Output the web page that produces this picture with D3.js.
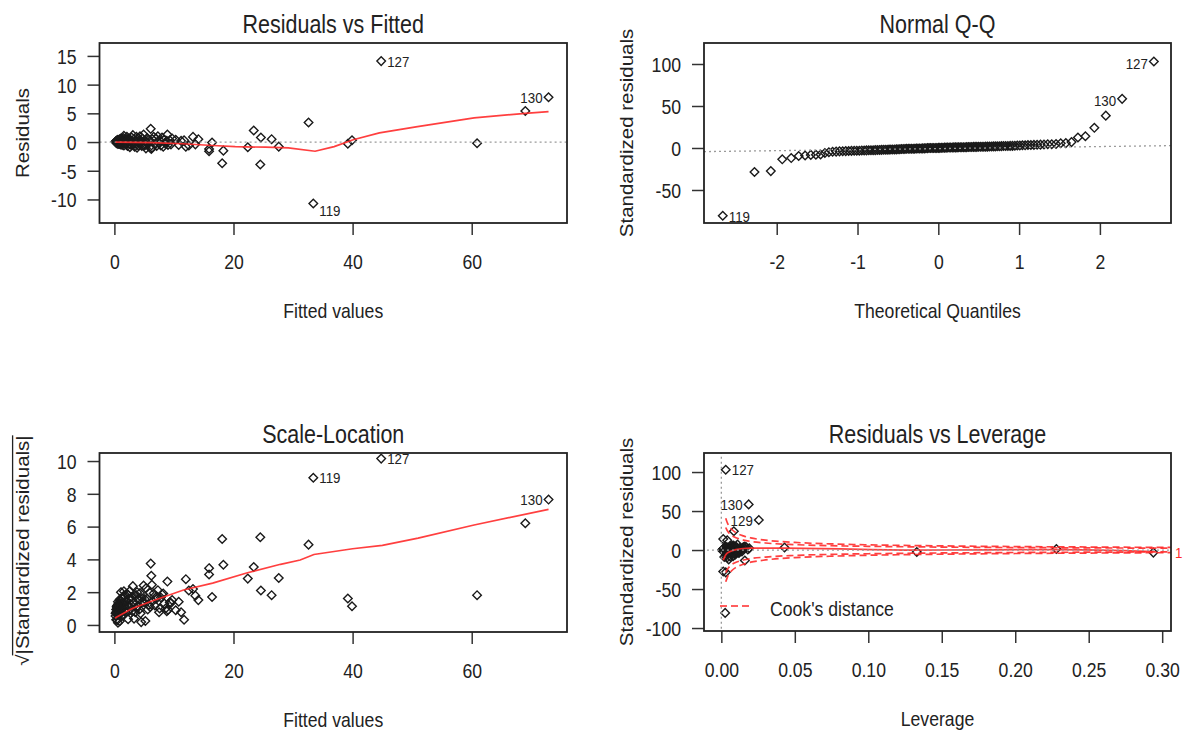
<!DOCTYPE html>
<html><head><meta charset="utf-8">
<script src="https://cdn.jsdelivr.net/npm/d3@7"></script>
<style>
html,body{margin:0;padding:0;background:#fff;}
svg{display:block;font-family:"Liberation Sans",Arial,Helvetica,sans-serif;}
</style></head><body>
<svg id="chart" width="1187" height="733"></svg>
<script>
// ---------- data (one entry per observation, obs number = index+1) ----------
const fittedValues = [
 0.2,0.3,0.3,0.4,0.4,0.5,0.5,0.5,0.6,0.6, 0.6,0.7,0.7,0.7,0.8,0.8,0.8,0.9,0.9,0.9,
 1.0,1.0,0.2,0.3,0.4,0.6,1.1,1.2,1.2,1.3, 1.4,1.5,1.5,1.6,1.7,1.8,1.9,2.0,2.1,2.2,
 2.3,2.4,2.5,2.6,2.7,2.8,2.9,3.0,1.3,1.9, 2.4,1.6,3.1,3.2,3.3,3.4,3.5,3.6,3.7,3.8,
 3.9,4.0,4.2,4.3,4.4,4.6,4.7,4.9,5.0,5.2, 5.3,5.5,5.6,5.8,5.9,6.0,3.3,4.5,6.3,6.4,
 6.6,6.8,7.0,7.1,7.3,7.5,7.6,7.8,8.0,8.2, 8.4,8.6,8.8,9.0,9.3,9.5,9.7,8.9,10.3,11.7,
 12.5,13.2,13.6,14.1,10.8,11.2,18.3,15.9,15.9,27.6, 22.4,12.0,6.2,23.4,6.1,24.6,26.4,16.4,33.4,24.5,
 18.1,32.6,60.9,39.2,39.9,0.9,44.8,2.2,69.0,72.9, 5.1];
const residualValues = [
 0.05,-0.1,0.15,-0.2,0.1,0.2,-0.05,0.3,-0.15,0.05, 0.4,-0.25,0.1,0.2,-0.1,0.3,-0.3,0.05,0.5,-0.2,
 0.15,-0.4,0.1,-0.05,0.25,-0.35,0.6,-0.3,0.2,-0.5, 0.4,-0.1,0.7,-0.6,0.3,-0.2,0.5,-0.4,0.9,-0.7,
 0.1,0.6,-0.3,-0.9,0.4,-0.5,0.8,-0.2,0.1,-0.15, 0.2,1.1,1.2,-0.4,0.5,-0.8,0.2,-0.3,0.9,-1.0,
 0.4,-0.6,0.3,1.0,-0.2,-0.7,0.6,1.3,-0.5,0.1, -1.1,0.7,-0.3,0.4,-0.9,0.2,-0.1,0.05,-1.0,0.5,
 0.9,-0.4,0.6,-0.7,1.0,-0.2,0.3,-0.6,0.8,-0.8, 0.4,-0.3,0.2,-0.5,0.3,-0.4,0.6,1.3,0.4,0.3,
 -0.6,0.9,-0.4,0.5,-0.5,0.2,-1.5,-1.6,-1.2,-0.8, -0.9,-0.8,-1.2,2.0,2.3,0.8,0.5,-0.1,-10.7,-3.9,
 -3.7,3.4,-0.2,-0.3,0.3,0.1,14.1,0.35,5.4,7.8, -0.6];
const stdResiduals = [
 0.3,-0.6,0.9,-1.2,0.5,1.1,-0.08,1.4,-0.9,0.02, 1.6,-1.5,0.4,0.8,-0.5,1.2,-1.8,0.05,2.4,-1.0,
 0.7,-2.2,0.5,-0.1,1.3,-2.0,4.0,-1.6,0.9,-2.6, 1.8,-0.4,3.0,-3.2,1.4,-0.8,2.2,-2.0,3.6,-3.5,
 0.12,2.5,-1.2,-4.3,1.6,-2.3,2.9,-0.7,0.35,-0.6, 0.7,4.2,5.6,-1.7,1.9,-3.4,0.6,-1.1,3.3,-4.0,
 1.3,-2.4,0.9,3.8,-0.5,-2.7,2.0,5.8,-1.9,0.06, -5.0,2.6,-0.9,1.5,-3.9,1.2,-0.15,0.03,-6.0,2.1,
 3.7,-1.4,2.5,-3.0,4.5,-0.6,1.0,-2.8,3.5,-3.7, 1.7,-1.0,0.7,-0.85,1.9,-1.8,2.3,7.0,0.8,0.1,
 -4.4,4.8,-3.2,2.3,-2.0,0.6,-13.5,-12.0,-9.5,-8.2, -8.0,-7.8,-9.0,12.5,14.0,4.4,3.3,-2.9,-80.6,-28.6,
 -27.5,24.0,-3.3,-2.6,1.3,0.4,103.0,1.5,38.5,58.5, -2.5];
const leverageValues = [
 0.0010,0.0012,0.0015,0.0009,0.0020,0.0011,0.0018,0.0025,0.0013,0.0030, 0.0016,0.0021,0.0008,0.0035,0.0014,0.0026,0.0019,0.0040,0.0022,0.0028,
 0.0017,0.0032,0.0007,0.0024,0.0012,0.0045,0.0030,0.0023,0.0050,0.0036, 0.0027,0.0060,0.0041,0.0033,0.0055,0.0029,0.0070,0.0044,0.0038,0.0062,
 0.0048,0.0075,0.0052,0.0040,0.0085,0.0058,0.0067,0.0049,0.0021,0.0034, 0.0046,0.0090,0.0072,0.0055,0.0080,0.0063,0.0095,0.0051,0.0078,0.0068,
 0.0105,0.0059,0.0088,0.0074,0.0110,0.0066,0.0092,0.0083,0.0120,0.0070, 0.0096,0.0087,0.0130,0.0079,0.0101,0.0140,0.0061,0.0085,0.0093,0.0110,
 0.0150,0.0085,0.0125,0.0105,0.0160,0.0098,0.0135,0.0115,0.0170,0.0120, 0.0145,0.0108,0.0180,0.0130,0.0155,0.0140,0.0190,0.0110,0.0050,0.0040,
 0.0075,0.0060,0.0095,0.0080,0.0065,0.0052,0.0160,0.0050,0.0040,0.0060, 0.0080,0.0030,0.0020,0.0040,0.0013,0.0100,0.0430,0.0120,0.0026,0.0030,
 0.0013,0.0085,0.2940,0.1330,0.2280,0.0060,0.0030,0.0100,0.0255,0.0186, 0.0077];

// labelled observations
const idsResFit = [119,127,130];
const idsQQ = [119,127,130];
const idsScale = [119,127,130];
const idsLev = [127,129,130];

// smoother lines
const smoothRFx = [0.2,6.3,11.4,16.5,20.3,25.4,29.2,33.7,36.9,40.1,44.5,50.9,60.4,69.0,72.9];
const smoothRFy = [0.0,-0.1,-0.3,-0.6,-0.8,-0.9,-1.0,-1.6,-0.8,0.4,1.6,2.7,4.2,5.0,5.3];
const smoothSLx = [0.1,3,6,11.6,16.5,22.2,27.9,31.2,33.5,40,45,51,60.4,72.9];
const smoothSLy = [0.43,1.0,1.42,2.13,2.55,3.17,3.7,3.96,4.3,4.65,4.85,5.3,6.1,7.05];
const smoothRLx = [0.0013,0.003,0.006,0.01,0.015,0.02,0.03,0.043,0.133,0.228,0.294];
const smoothRLy = [-13,-6,-2,0.5,2,2.5,2.5,2.5,0,0.5,-2];
// Q-Q reference line end points
const qqLineX = [-2.9, 2.88];
const qqLineY = [-4.3, 2.8];
// Cook's distance contours (levels 0.5 and 1)
const cookLeverage = [0.003,0.004,0.005,0.007,0.01,0.015,0.02,0.03,0.05,0.075,0.1,0.15,0.2,0.25,0.306];
const cookLevel1 = [40.8,35.3,31.5,26.6,22.2,18.1,15.6,12.7,9.75,7.86,6.7,5.3,4.47,3.87,3.37];
const cookLevel05 = [28.9,25.0,22.3,18.8,15.7,12.8,11.0,9.0,6.9,5.56,4.74,3.76,3.16,2.74,2.38];

// ticks
const ticksFitted = [0,20,40,60];
const ticksResid = [-10,-5,0,5,10,15];
const ticksQuant = [-2,-1,0,1,2];
const ticksStd = [-50,0,50,100];
const ticksSqrt = [0,2,4,6,8,10];
const ticksLev = [0,0.05,0.10,0.15,0.20,0.25,0.30];
const ticksStdLev = [-100,-50,0,50,100];

// ---------- helpers ----------
const SX = 0.86;
const FONT = 20.5;
const svg = d3.select("#chart");

function addText(g, x, y, str, o = {}) {
  const size = o.size || FONT;
  return g.append("text")
    .attr("transform", `translate(${x},${y}) scale(${SX},1)` + (o.rotate ? ` rotate(${o.rotate})` : ""))
    .attr("text-anchor", o.anchor || "middle")
    .attr("dy", o.dy || "0")
    .attr("font-size", size)
    .attr("fill", o.fill || "#222")
    .text(str);
}

function qnorm(p){
 const a=[-3.969683028665376e+01,2.209460984245205e+02,-2.759285104469687e+02,1.383577518672690e+02,-3.066479806614716e+01,2.506628277459239e+00];
 const b=[-5.447609879822406e+01,1.615858368580409e+02,-1.556989798598866e+02,6.680131188771972e+01,-1.328068155288572e+01];
 const c=[-7.784894002430293e-03,-3.223964580411365e-01,-2.400758277161838e+00,-2.549732539343734e+00,4.374664141464968e+00,2.938163982698783e+00];
 const d=[7.784695709041462e-03,3.224671290700398e-01,2.445134137142996e+00,3.754408661907416e+00];
 const pl=0.02425, ph=1-pl; let q,r;
 if(p<pl){q=Math.sqrt(-2*Math.log(p));return (((((c[0]*q+c[1])*q+c[2])*q+c[3])*q+c[4])*q+c[5])/((((d[0]*q+d[1])*q+d[2])*q+d[3])*q+1);}
 if(p<=ph){q=p-0.5;r=q*q;return (((((a[0]*r+a[1])*r+a[2])*r+a[3])*r+a[4])*r+a[5])*q/(((((b[0]*r+b[1])*r+b[2])*r+b[3])*r+b[4])*r+1);}
 q=Math.sqrt(-2*Math.log(1-p));return -(((((c[0]*q+c[1])*q+c[2])*q+c[3])*q+c[4])*q+c[5])/((((d[0]*q+d[1])*q+d[2])*q+d[3])*q+1);
}

let clipN = 0;
function panel(cfg) {
  const {box} = cfg;
  const g = svg.append("g");
  const x = d3.scaleLinear().domain(cfg.xDomain).range([box.l, box.r]);
  const y = d3.scaleLinear().domain(cfg.yDomain).range([box.b, box.t]);
  const id = "clip" + (clipN++);
  svg.append("clipPath").attr("id", id).append("rect")
    .attr("x", box.l).attr("y", box.t).attr("width", box.r - box.l).attr("height", box.b - box.t);
  const inner = g.append("g").attr("clip-path", `url(#${id})`);

  const ya = g.append("g").attr("transform", `translate(${box.l},0)`)
    .call(d3.axisLeft(y).tickValues(cfg.yTicks).tickSize(12).tickSizeOuter(0).tickFormat(cfg.yFmt || d3.format("d")));
  const xa = g.append("g").attr("transform", `translate(0,${box.b})`)
    .call(d3.axisBottom(x).tickValues(cfg.xTicks).tickSize(12).tickSizeOuter(0).tickFormat(cfg.xFmt || d3.format("d")));
  [ya, xa].forEach(a => {
    a.attr("font-size", null).attr("font-family", null);
    a.select(".domain").remove();
    a.selectAll(".tick line").attr("stroke", "#333").attr("stroke-width", 1.5);
    a.selectAll(".tick text").attr("font-size", FONT).attr("fill", "#222");
  });
  ya.selectAll(".tick text").attr("x", null).attr("dy", "0.36em")
    .attr("transform", `translate(-23,0) scale(${SX},1)`).text(function(){ return this.textContent.replace("−","-"); });
  xa.selectAll(".tick text").attr("y", null).attr("dy", "0.36em")
    .attr("transform", `translate(0,39) scale(${SX},1)`).text(function(){ return this.textContent.replace("−","-"); });

  const cx = (box.l + box.r) / 2;
  addText(g, cx, box.t - 10, cfg.title, {size: 25});
  addText(g, cx, box.b + 95, cfg.xLabel);
  if (!cfg.sqrtLabel) {
    addText(g, cfg.yLabelX, (box.t + box.b) / 2, cfg.yLabel, {rotate: -90, dy: "0.36em"});
  } else {
    const cy = (box.t + box.b) / 2 + 8;
    const t = addText(g, cfg.yLabelX, cy, cfg.yLabel, {rotate: -90, dy: "0.36em"});
    const len = t.node().getComputedTextLength();
    const barX = cfg.yLabelX + 0.36 * FONT * SX - 0.95 * FONT * SX;
    g.append("line").attr("x1", barX).attr("x2", barX)
      .attr("y1", cy - len / 2).attr("y2", cy + len / 2 - 0.5 * FONT)
      .attr("stroke", "#222").attr("stroke-width", 1.3);
  }
  return {g, inner, x, y};
}

const diamond = (px, py, r = 4.3) => `M${px},${py - r}L${px + r},${py}L${px},${py + r}L${px - r},${py}Z`;
function drawPoints(p, pts) {
  p.inner.selectAll("path.pt").data(pts).join("path").attr("class", "pt")
    .attr("d", d => diamond(p.x(d.x), p.y(d.y)))
    .attr("fill", "none").attr("stroke", "#1a1a1a").attr("stroke-width", 1.4);
}
function drawLine(p, xs, ys, o = {}) {
  const pts = xs.map((v, i) => [v, ys[i]]);
  p.inner.append("path").datum(pts)
    .attr("d", d3.line().x(d => p.x(d[0])).y(d => p.y(d[1])).curve(o.curve || d3.curveLinear))
    .attr("fill", "none").attr("stroke", o.color || "#ff2a2a")
    .attr("stroke-width", o.width || 1.7)
    .attr("stroke-dasharray", o.dash || null)
    .attr("stroke-opacity", o.opacity || 0.9);
}
function dotted(p, x1, y1, x2, y2) {
  p.inner.append("line").attr("x1", p.x(x1)).attr("y1", p.y(y1)).attr("x2", p.x(x2)).attr("y2", p.y(y2))
    .attr("stroke", "#9a9a9a").attr("stroke-width", 1.3).attr("stroke-dasharray", "2,3");
}
function drawLabels(p, items) {
  items.forEach(it => {
    const px = p.x(it.x), py = p.y(it.y);
    addText(p.g, px + (it.side === "right" ? 6 : -6), py + (it.dy || 0), String(it.id),
      {size: 15.5, anchor: it.side === "right" ? "start" : "end", dy: "0.36em"});
  });
}
function drawBox(p, box) {
  p.g.append("rect").attr("x", box.l).attr("y", box.t).attr("width", box.r - box.l).attr("height", box.b - box.t)
    .attr("fill", "none").attr("stroke", "#222").attr("stroke-width", 1.8);
}

const n = fittedValues.length;
const obs = d3.range(n).map(i => ({id: i + 1, fit: fittedValues[i], res: residualValues[i], std: stdResiduals[i], lev: leverageValues[i]}));

// ---------- Panel 1: Residuals vs Fitted ----------
const box1 = {l: 99.5, r: 567, t: 43, b: 223};
const p1 = panel({box: box1, xDomain: [-2.5, 76.0], yDomain: [-14.1, 17.25], xTicks: ticksFitted, yTicks: ticksResid,
  title: "Residuals vs Fitted", xLabel: "Fitted values", yLabel: "Residuals", yLabelX: 23});
drawPoints(p1, obs.map(o => ({x: o.fit, y: o.res})));
dotted(p1, -5, 0, 80, 0);
drawLine(p1, smoothRFx, smoothRFy);
drawBox(p1, box1);
drawLabels(p1, idsResFit.map(k => { const o = obs[k - 1];
  return {id: k, x: o.fit, y: o.res, side: o.fit > 60 ? "left" : "right", dy: o.res < 0 ? 7 : 0}; }));

// ---------- Panel 2: Normal Q-Q ----------
const box2 = {l: 704, r: 1171, t: 43, b: 223};
const p2 = panel({box: box2, xDomain: [-2.90, 2.88], yDomain: [-89.3, 125], xTicks: ticksQuant, yTicks: ticksStd,
  title: "Normal Q-Q", xLabel: "Theoretical Quantiles", yLabel: "Standardized residuals", yLabelX: 627});
const sorted = obs.slice().sort((a, b) => a.std - b.std);
const qq = sorted.map((o, i) => ({id: o.id, x: qnorm((i + 0.5) / n), y: o.std}));
drawPoints(p2, qq);
dotted(p2, qqLineX[0], qqLineY[0], qqLineX[1], qqLineY[1]);
drawBox(p2, box2);
drawLabels(p2, idsQQ.map(k => { const q = qq.find(d => d.id === k);
  return {id: k, x: q.x, y: q.y, side: q.y < 0 ? "right" : "left", dy: q.y < 0 ? 1 : 2}; }));

// ---------- Panel 3: Scale-Location ----------
const box3 = {l: 99.5, r: 567, t: 453, b: 632};
const p3 = panel({box: box3, xDomain: [-2.5, 76.0], yDomain: [-0.43, 10.49], xTicks: ticksFitted, yTicks: ticksSqrt,
  title: "Scale-Location", xLabel: "Fitted values", yLabel: "√|Standardized residuals|", yLabelX: 23, sqrtLabel: true});
drawPoints(p3, obs.map(o => ({x: o.fit, y: Math.sqrt(Math.abs(o.std))})));
drawLine(p3, smoothSLx, smoothSLy);
drawBox(p3, box3);
drawLabels(p3, idsScale.map(k => { const o = obs[k - 1];
  return {id: k, x: o.fit, y: Math.sqrt(Math.abs(o.std)), side: o.fit > 60 ? "left" : "right"}; }));

// ---------- Panel 4: Residuals vs Leverage ----------
const box4 = {l: 704, r: 1171, t: 453, b: 631};
const p4 = panel({box: box4, xDomain: [-0.0118, 0.306], yDomain: [-103.8, 124.4], xTicks: ticksLev, yTicks: ticksStdLev,
  xFmt: d3.format(".2f"),
  title: "Residuals vs Leverage", xLabel: "Leverage", yLabel: "Standardized residuals", yLabelX: 627});
drawPoints(p4, obs.map(o => ({x: o.lev, y: o.std})));
drawLine(p4, smoothRLx, smoothRLy, {curve: d3.curveMonotoneX});
dotted(p4, -0.02, 0, 0.4, 0);
dotted(p4, 0, -120, 0, 130);
[cookLevel1, cookLevel05].forEach(lv => {
  drawLine(p4, cookLeverage, lv, {dash: "7,4", curve: d3.curveMonotoneX});
  drawLine(p4, cookLeverage, lv.map(v => -v), {dash: "7,4", curve: d3.curveMonotoneX});
});
drawBox(p4, box4);
drawLabels(p4, idsLev.map(k => { const o = obs[k - 1];
  return {id: k, x: o.lev, y: o.std, side: k === 127 ? "right" : "left"}; }));
p4.g.append("line").attr("x1", box4.l + 16).attr("x2", box4.l + 46).attr("y1", box4.b - 25).attr("y2", box4.b - 25)
  .attr("stroke", "#ff2a2a").attr("stroke-width", 1.7).attr("stroke-dasharray", "7,4");
addText(p4.g, box4.l + 66, box4.b - 22, "Cook's distance", {anchor: "start", dy: "0.36em"});
addText(p4.g, box4.r + 4, p4.y(-cookLevel1[cookLevel1.length - 1]), "1", {anchor: "start", size: 15.5, fill: "#ff2a2a", dy: "0.36em"});
</script>
</body></html>
